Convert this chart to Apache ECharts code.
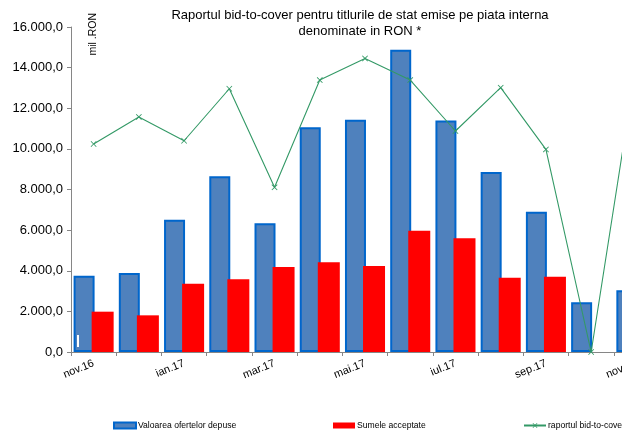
<!DOCTYPE html>
<html>
<head>
<meta charset="utf-8">
<script src="https://cdn.jsdelivr.net/npm/echarts@6/dist/echarts.min.js"></script>
<style>
  html, body { margin: 0; padding: 0; background: #fff; overflow: hidden; }
  /* the original chart is cut off on the right, so the canvas is wider than the window */
  #chart { width: 700px; height: 433px; }
</style>
</head>
<body>
<div id="chart"></div>
<script>
var months = ['nov.16', 'dec.16', 'ian.17', 'feb.17', 'mar.17', 'apr.17', 'mai.17',
  'iun.17', 'iul.17', 'aug.17', 'sep.17', 'oct.17', 'nov.17'];
var ofertelor = [3757, 3890, 6513, 8650, 6335, 11060, 11437, 14880, 11400, 8860, 6905, 2447, 3037];
var acceptate = [1985, 1805, 3363, 3577, 4185, 4415, 4234, 5972, 5597, 3658, 3707, 0, 1136];
var bidToCover = [1.92, 2.17, 1.95, 2.43, 1.52, 2.51, 2.71, 2.51, 2.04, 2.44, 1.87, 0, 2.67];

(function () {
  'use strict';

  var font = 'Liberation Sans, Arial, sans-serif';
  var myChart = echarts.init(document.getElementById('chart'));

  function roFormat(v) {
    var s = Math.round(v).toString().replace(/\B(?=(\d{3})+(?!\d))/g, '.');
    return s + ',0';
  }

  var crossPath = 'path://M0,1L1,0L5,4L9,0L10,1L6,5L10,9L9,10L5,6L1,10L0,9L4,5Z';

  var legendBase = {
    top: 421,
    padding: 0,
    itemWidth: 22,
    itemHeight: 6,
    itemGap: 2,
    textStyle: { fontFamily: font, fontSize: 8.6, color: '#000', padding: [0, 0, 0, -3] }
  };

  var option = {
    animation: false,
    backgroundColor: '#fff',
    title: {
      text: 'Raportul bid-to-cover pentru titlurile de stat emise pe piata interna\ndenominate in RON *',
      left: 355,
      top: 3,
      textAlign: 'center',
      textStyle: {
        fontFamily: font,
        fontSize: 13,
        fontWeight: 'normal',
        color: '#000',
        lineHeight: 15.5
      }
    },
    legend: [
      Object.assign({}, legendBase, { left: 113, data: [{ name: 'Valoarea ofertelor depuse', icon: 'rect' }] }),
      Object.assign({}, legendBase, { left: 333, data: [{ name: 'Sumele acceptate', icon: 'rect' }] }),
      Object.assign({}, legendBase, { left: 523, data: ['raportul bid-to-cover'] })
    ],
    grid: {
      left: 71,
      top: 27,
      height: 325,
      width: 588
    },
    xAxis: [{
      type: 'category',
      data: months,
      axisLine: { lineStyle: { color: '#868686', width: 1 } },
      axisTick: { show: true, length: 4, interval: 0, lineStyle: { color: '#868686' } },
      axisLabel: {
        interval: 1,
        rotate: 22,
        margin: 11,
        fontFamily: font,
        fontSize: 11,
        color: '#000'
      }
    }],
    yAxis: [{
      type: 'value',
      min: 0,
      max: 16000,
      interval: 2000,
      splitLine: { show: false },
      axisLine: { show: true, lineStyle: { color: '#868686' } },
      axisTick: { show: true, length: 4, lineStyle: { color: '#868686' } },
      axisLabel: {
        formatter: roFormat,
        fontFamily: font,
        fontSize: 13,
        color: '#000',
        margin: 8
      }
    }, {
      type: 'value',
      min: 0,
      max: 3,
      show: false,
      splitLine: { show: false }
    }],
    graphic: [{
      type: 'text',
      left: 88,
      top: 13,
      rotation: Math.PI / 2,
      style: {
        text: 'mil .RON',
        font: '10.5px ' + font,
        fill: '#000'
      }
    }, {
      type: 'rect',
      left: 77,
      top: 335,
      shape: { width: 2, height: 12 },
      style: { fill: '#fff' },
      z: 100
    }],
    series: [{
      name: 'Valoarea ofertelor depuse',
      type: 'bar',
      data: ofertelor,
      barWidth: 21,
      barGap: '-14%',
      itemStyle: {
        color: '#4f81bd',
        borderColor: '#0066cc',
        borderWidth: 2
      }
    }, {
      name: 'Sumele acceptate',
      type: 'bar',
      data: acceptate,
      barWidth: 22,
      itemStyle: {
        color: '#ff0000'
      }
    }, {
      name: 'raportul bid-to-cover',
      type: 'line',
      yAxisIndex: 1,
      data: bidToCover,
      symbol: crossPath,
      symbolSize: 6,
      z: 5,
      lineStyle: { color: '#339966', width: 1.1 },
      itemStyle: { color: '#339966' }
    }]
  };

  myChart.setOption(option);
})();
</script>
</body>
</html>
